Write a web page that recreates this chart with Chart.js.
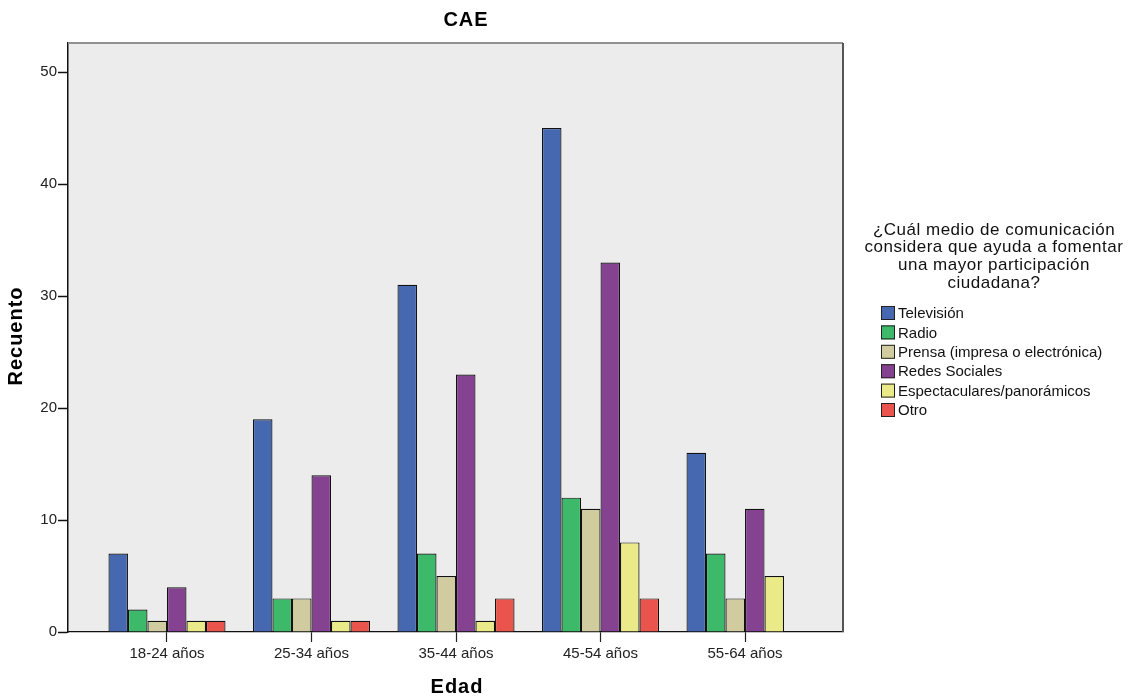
<!DOCTYPE html>
<html>
<head>
<meta charset="utf-8">
<script src="https://cdn.jsdelivr.net/npm/chart.js@4"></script>
<style>
  html, body { margin: 0; padding: 0; background: #fff; }
  #wrap { width: 1136px; height: 698px; position: relative; }
</style>
</head>
<body>
<div id="wrap"><canvas id="chart"></canvas></div>
<script>
// categories and counts
const categories = ["18-24 años", "25-34 años", "35-44 años", "45-54 años", "55-64 años"]
const television = [7, 19, 31, 45, 16]
const radio = [2, 3, 7, 12, 7]
const prensa = [1, 3, 5, 11, 3]
const redes = [4, 14, 23, 33, 11]
const espectaculares = [1, 1, 1, 8, 5]
const otro = [1, 1, 3, 3, 0]
const yTicks = [0, 10, 20, 30, 40, 50]

const seriesNames = [
  "Televisión",
  "Radio",
  "Prensa (impresa o electrónica)",
  "Redes Sociales",
  "Espectaculares/panorámicos",
  "Otro",
]
const seriesValues = [television, radio, prensa, redes, espectaculares, otro]
const seriesColors = ["#4668b0", "#3dba69", "#d0cc9f", "#854290", "#ebea88", "#e9544c"]

const legendTitle = [
  "¿Cuál medio de comunicación",
  "considera que ayuda a fomentar",
  "una mayor participación",
  "ciudadana?",
]

const FONT = "'Liberation Sans', Arial, sans-serif"

// plot background + top/right frame
const framePlugin = {
  id: "frame",
  beforeDraw(chart) {
    const { ctx, chartArea: a } = chart
    ctx.save()
    ctx.fillStyle = "#ebeceb"
    ctx.fillRect(a.left, a.top, a.right - a.left, a.bottom - a.top)
    ctx.restore()
  },
  afterDraw(chart) {
    const { ctx, chartArea: a } = chart
    ctx.save()
    ctx.lineWidth = 2
    ctx.strokeStyle = "#8f9190"
    ctx.beginPath()
    ctx.moveTo(a.left, a.top)
    ctx.lineTo(a.right, a.top)
    ctx.stroke()
    ctx.strokeStyle = "#555"
    ctx.beginPath()
    ctx.moveTo(a.right, a.top)
    ctx.lineTo(a.right, a.bottom)
    ctx.stroke()
    ctx.restore()
  },
}

// titles and legend
const textPlugin = {
  id: "texts",
  afterDraw(chart) {
    const ctx = chart.ctx
    ctx.save()
    ctx.fillStyle = "#000"
    ctx.textAlign = "center"
    ctx.textBaseline = "middle"

    ctx.font = "bold 20px " + FONT
    ctx.letterSpacing = "1px"
    ctx.fillText("CAE", 466, 20)
    ctx.fillText("Edad", 457, 687)

    ctx.save()
    ctx.translate(16, 336)
    ctx.rotate(-Math.PI / 2)
    ctx.fillText("Recuento", 0, 0)
    ctx.restore()

    ctx.font = "17px " + FONT
    ctx.letterSpacing = "0.5px"
    ctx.fillStyle = "#111"
    legendTitle.forEach((line, i) => {
      ctx.fillText(line, 994, 230 + i * 17.8)
    })

    ctx.letterSpacing = "0px"
    ctx.font = "15px " + FONT
    ctx.textAlign = "left"
    chart.data.datasets.forEach((ds, i) => {
      const y = 313 + i * 19.4
      ctx.fillStyle = ds.backgroundColor
      ctx.fillRect(881, y - 7, 14, 14)
      ctx.strokeStyle = "#222"
      ctx.lineWidth = 1
      ctx.strokeRect(881.5, y - 6.5, 13, 13)
      ctx.fillStyle = "#111"
      ctx.fillText(ds.label, 898, y + 1)
    })
    ctx.restore()
  },
}

const datasets = seriesNames.map((name, s) => ({
  label: name,
  data: categories.map((c, i) => ({ x: i, y: seriesValues[s][i] })),
  backgroundColor: seriesColors[s],
  borderColor: "#111",
  borderWidth: 1.2,
  borderSkipped: "start",
  barPercentage: 1,
  categoryPercentage: 0.81,
}))

new Chart(document.getElementById("chart"), {
  type: "bar",
  data: { datasets },
  options: {
    responsive: true,
    maintainAspectRatio: false,
    animation: false,
    layout: { padding: { top: 43, right: 293, left: 0, bottom: 0 } },
    plugins: {
      legend: { display: false },
      title: { display: false },
      tooltip: { enabled: false },
    },
    scales: {
      x: {
        type: "linear",
        offset: false,
        min: -0.685,
        max: 4.678,
        afterFit: (scale) => {
          scale.height = 66
        },
        afterBuildTicks: (scale) => {
          scale.ticks = categories.map((c, i) => ({ value: i }))
        },
        grid: {
          offset: false,
          drawOnChartArea: false,
          drawTicks: true,
          tickLength: 10,
          tickColor: "#222",
          tickWidth: 1.2,
        },
        border: { display: true, color: "#111", width: 1.3 },
        ticks: {
          autoSkip: false,
          maxRotation: 0,
          padding: 3,
          color: "#222",
          font: { family: FONT, size: 15 },
          callback: (v) => categories[v],
        },
      },
      y: {
        min: 0,
        max: 52.6,
        afterFit: (scale) => {
          scale.width = 68
        },
        afterBuildTicks: (scale) => {
          scale.ticks = yTicks.map((v) => ({ value: v }))
        },
        grid: {
          drawOnChartArea: false,
          drawTicks: true,
          tickLength: 10,
          tickColor: "#111",
          tickWidth: 1.5,
        },
        border: { display: true, color: "#111", width: 1.5 },
        ticks: {
          padding: 1,
          color: "#222",
          font: { family: FONT, size: 15 },
        },
      },
    },
  },
  plugins: [framePlugin, textPlugin],
})
</script>
</body>
</html>
